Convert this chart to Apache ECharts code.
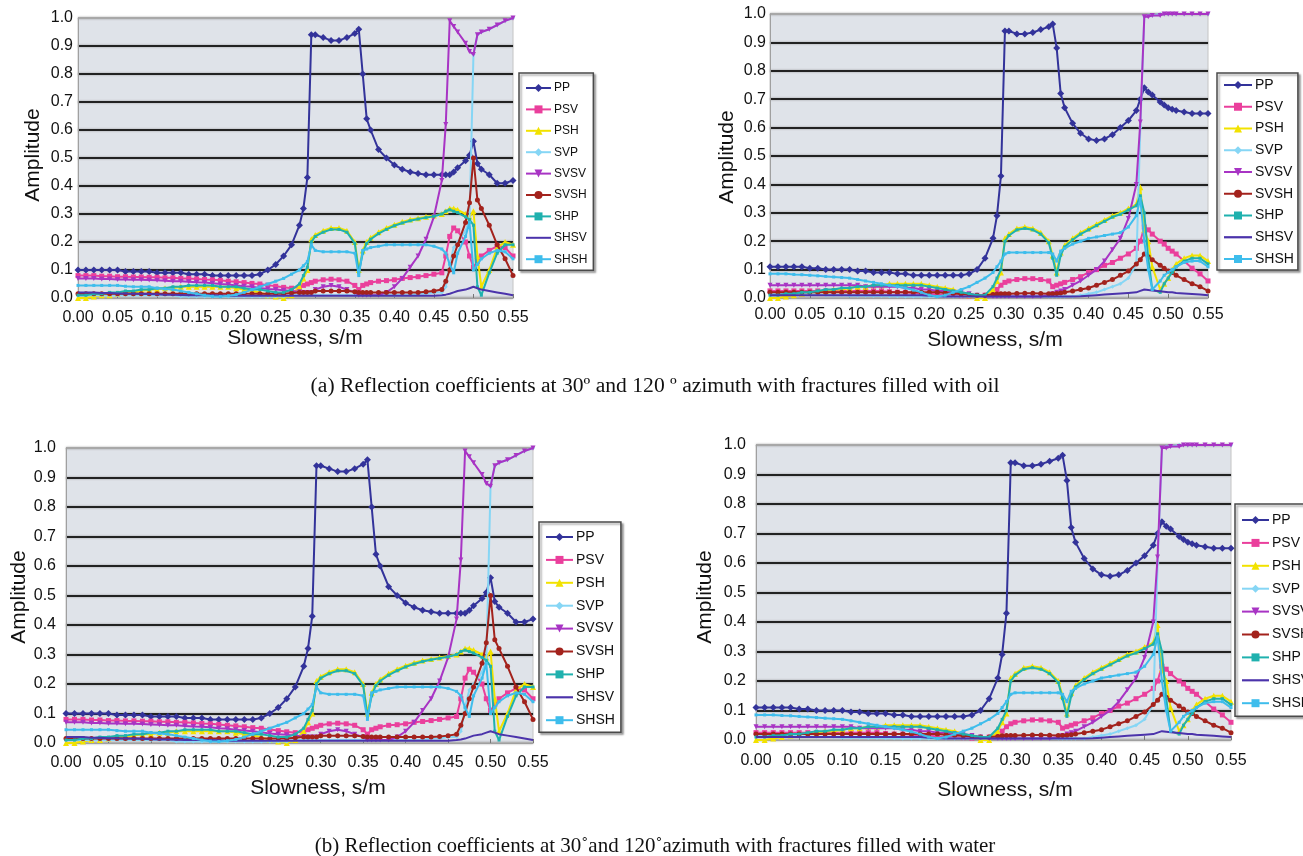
<!DOCTYPE html>
<html><head><meta charset="utf-8">
<script src="https://cdn.jsdelivr.net/npm/echarts@6/dist/echarts.min.js"></script>
<style>html,body{margin:0;padding:0;background:#fff}#c{width:1303px;height:856px}</style>
</head><body><div id="c"></div>
<script>
// ---------------- DATA ----------------
const seriesNames = ['PP','PSV','PSH','SVP','SVSV','SVSH','SHP','SHSV','SHSH'];
const xTickStep = 0.05, yTickStep = 0.1;
// shared slowness sample positions (s/m)
const slowness = [
0,0.01,0.02,0.03,0.04,0.05,0.06,0.07,0.08,0.09,
0.10,0.11,0.12,0.13,0.14,0.15,0.16,0.17,0.18,0.19,
0.20,0.21,0.22,0.23,0.24,0.25,0.26,0.27,0.28,
0.285,0.29,0.295,
0.30,0.31,0.32,0.33,0.34,0.35,
0.355,0.36,0.365,
0.37,0.38,0.39,0.40,0.41,0.42,0.43,0.44,0.45,0.46,
0.465,0.47,0.475,0.48,
0.49,0.495,0.50,0.505,
0.51,0.52,0.53,0.54,0.55];

// ---- 30 degree azimuth (left panels) ----
const ppA = [
0.10,0.10,0.10,0.10,0.10,0.10,0.095,0.095,0.095,0.095,
0.09,0.09,0.09,0.09,0.085,0.085,0.085,0.08,0.08,0.08,
0.08,0.08,0.08,0.085,0.10,0.12,0.15,0.19,0.26,
0.32,0.43,0.94,
0.94,0.93,0.92,0.92,0.93,0.945,
0.96,0.80,0.64,
0.60,0.53,0.50,0.475,0.46,0.45,0.445,0.44,0.44,0.44,
0.44,0.44,0.45,0.465,
0.49,0.51,0.56,0.48,
0.46,0.44,0.41,0.41,0.42];
const psvA = [
0.08,0.08,0.08,0.078,0.078,0.076,0.076,0.075,0.075,0.074,
0.074,0.072,0.072,0.07,0.07,0.068,0.066,0.065,0.063,0.06,
0.058,0.055,0.052,0.05,0.046,0.042,0.038,0.035,0.04,
0.045,0.05,0.055,
0.06,0.065,0.067,0.065,0.06,0.045,
0.03,0.045,0.05,
0.055,0.06,0.062,0.065,0.07,0.073,0.076,0.08,0.085,0.09,
0.15,0.22,0.25,0.24,
0.20,0.15,0.11,0.13,
0.15,0.17,0.185,0.18,0.15];
const pshA = [
0.0,0.0,0.005,0.01,0.01,0.015,0.02,0.02,0.025,0.03,
0.03,0.035,0.035,0.04,0.04,0.04,0.04,0.04,0.04,0.04,
0.035,0.03,0.025,0.02,0.01,0.005,0.0,0.01,0.04,
0.07,0.10,0.21,
0.225,0.24,0.25,0.25,0.24,0.20,
0.10,0.17,0.20,
0.215,0.235,0.25,0.262,0.272,0.28,0.285,0.29,0.295,0.30,
0.31,0.32,0.32,0.315,
0.30,0.29,0.31,0.15,
0.04,0.10,0.18,0.20,0.19];
const svpA = [
0.01,0.01,0.01,0.01,0.01,0.01,0.01,0.01,0.01,0.01,
0.01,0.01,0.01,0.005,0.005,0.005,0.005,0.005,0.005,0.005,
0.005,0.005,0.005,0.005,0.005,0.005,0.005,0.01,0.01,
0.01,0.01,0.01,
0.01,0.01,0.01,0.01,0.01,0.01,
0.01,0.01,0.01,
0.01,0.01,0.01,0.01,0.01,0.01,0.015,0.015,0.02,0.02,
0.04,0.12,0.18,0.20,
0.24,0.28,0.87,0.94,
0.95,0.96,0.975,0.99,1.0];
const svsvA = [
0.07,0.07,0.07,0.068,0.068,0.066,0.066,0.065,0.065,0.064,
0.063,0.062,0.06,0.06,0.058,0.056,0.055,0.053,0.05,0.048,
0.045,0.042,0.04,0.036,0.032,0.03,0.028,0.025,0.022,
0.02,0.02,0.02,
0.03,0.04,0.045,0.04,0.03,0.02,
0.01,0.01,0.01,
0.01,0.01,0.02,0.04,0.07,0.11,0.15,0.21,0.29,0.42,
0.62,0.99,0.97,0.95,
0.91,0.88,0.87,0.94,
0.95,0.96,0.975,0.99,1.0];
const svshA = [
0.015,0.015,0.015,0.015,0.015,0.015,0.015,0.015,0.015,0.015,
0.015,0.015,0.015,0.015,0.015,0.015,0.015,0.015,0.015,0.015,
0.015,0.015,0.015,0.015,0.015,0.015,0.015,0.018,0.02,
0.02,0.02,0.02,
0.025,0.025,0.025,0.025,0.025,0.022,
0.02,0.02,0.02,
0.02,0.02,0.02,0.02,0.02,0.02,0.02,0.022,0.025,0.03,
0.06,0.10,0.15,0.19,
0.27,0.34,0.50,0.35,
0.32,0.26,0.19,0.14,0.08];
const shpA = [
0.01,0.01,0.015,0.015,0.02,0.02,0.025,0.025,0.03,0.03,
0.035,0.035,0.04,0.04,0.045,0.045,0.045,0.045,0.04,0.04,
0.04,0.035,0.03,0.03,0.025,0.02,0.02,0.03,0.05,
0.08,0.11,0.20,
0.22,0.235,0.245,0.245,0.235,0.195,
0.09,0.16,0.195,
0.21,0.23,0.245,0.258,0.268,0.276,0.282,0.287,0.292,0.30,
0.31,0.315,0.31,0.305,
0.29,0.28,0.26,0.04,
0.01,0.09,0.16,0.19,0.19];
const shsvA = [
0.02,0.02,0.02,0.018,0.018,0.016,0.016,0.015,0.015,0.014,
0.013,0.012,0.012,0.011,0.01,0.01,0.01,0.01,0.009,0.008,
0.008,0.008,0.008,0.008,0.008,0.008,0.008,0.008,0.008,
0.008,0.008,0.008,
0.008,0.008,0.008,0.008,0.008,0.008,
0.008,0.008,0.008,
0.008,0.008,0.008,0.008,0.008,0.008,0.008,0.008,0.008,0.01,
0.012,0.015,0.02,0.025,
0.03,0.035,0.04,0.035,
0.03,0.025,0.02,0.015,0.01];
const shshA = [
0.045,0.045,0.045,0.045,0.045,0.045,0.042,0.04,0.04,0.04,
0.035,0.032,0.03,0.025,0.02,0.015,0.01,0.006,0.005,0.008,
0.012,0.02,0.03,0.04,0.05,0.06,0.07,0.085,0.10,
0.115,0.13,0.19,
0.17,0.165,0.165,0.165,0.165,0.16,
0.08,0.17,0.175,
0.18,0.185,0.19,0.19,0.19,0.19,0.19,0.19,0.185,0.175,
0.16,0.12,0.09,0.16,
0.22,0.27,0.10,0.12,
0.14,0.16,0.17,0.165,0.14];

// ---- 120 degree azimuth (right panels) ----
const ppB = [
0.11,0.11,0.11,0.11,0.11,0.105,0.105,0.10,0.10,0.10,
0.10,0.095,0.095,0.09,0.09,0.09,0.085,0.085,0.08,0.08,
0.08,0.08,0.08,0.08,0.08,0.085,0.10,0.14,0.21,
0.29,0.43,0.94,
0.94,0.93,0.93,0.935,0.945,0.955,
0.965,0.88,0.72,
0.67,0.615,0.58,0.56,0.555,0.56,0.575,0.60,0.625,0.66,
0.70,0.74,0.725,0.715,
0.69,0.68,0.67,0.665,
0.66,0.655,0.65,0.65,0.65];
const psvB = [
0.025,0.025,0.025,0.025,0.025,0.025,0.025,0.025,0.025,0.025,
0.025,0.025,0.025,0.025,0.025,0.022,0.02,0.02,0.018,0.016,
0.015,0.012,0.01,0.01,0.008,0.006,0.005,0.01,0.02,
0.03,0.045,0.055,
0.06,0.065,0.068,0.068,0.065,0.06,
0.04,0.045,0.05,
0.055,0.065,0.075,0.09,0.10,0.115,0.125,0.14,0.155,0.175,
0.20,0.25,0.24,0.225,
0.20,0.19,0.175,0.165,
0.155,0.13,0.105,0.085,0.06];
const pshB = [
0.0,0.0,0.005,0.01,0.015,0.02,0.02,0.025,0.03,0.03,
0.035,0.04,0.04,0.045,0.045,0.05,0.05,0.05,0.05,0.05,
0.045,0.04,0.035,0.03,0.02,0.01,0.0,0.0,0.03,
0.06,0.09,0.21,
0.225,0.245,0.25,0.245,0.23,0.20,
0.15,0.09,0.16,
0.185,0.21,0.23,0.245,0.26,0.275,0.29,0.30,0.315,0.33,
0.39,0.24,0.20,0.11,
0.03,0.05,0.07,0.10,
0.12,0.14,0.15,0.15,0.13];
const svpB = [
0.015,0.015,0.015,0.015,0.015,0.012,0.012,0.01,0.01,0.01,
0.008,0.008,0.008,0.007,0.007,0.006,0.006,0.005,0.005,0.005,
0.005,0.005,0.005,0.005,0.005,0.005,0.005,0.005,0.005,
0.005,0.005,0.005,
0.005,0.005,0.005,0.005,0.005,0.005,
0.005,0.005,0.005,
0.005,0.005,0.01,0.015,0.02,0.03,0.04,0.05,0.07,0.12,
0.60,0.99,0.995,0.995,
1.0,1.0,1.0,1.0,
1.0,1.0,1.0,1.0,1.0];
const svsvB = [
0.045,0.045,0.045,0.045,0.045,0.045,0.045,0.045,0.045,0.045,
0.045,0.045,0.04,0.04,0.04,0.04,0.04,0.035,0.035,0.03,
0.03,0.025,0.025,0.02,0.02,0.015,0.01,0.005,0.005,
0.005,0.005,0.005,
0.005,0.005,0.005,0.005,0.005,0.01,
0.015,0.02,0.025,
0.03,0.045,0.06,0.08,0.10,0.13,0.17,0.21,0.28,0.40,
0.62,0.99,0.99,0.995,
0.995,1.0,1.0,1.0,
1.0,1.0,1.0,1.0,1.0];
const svshB = [
0.02,0.02,0.02,0.02,0.02,0.02,0.02,0.02,0.02,0.02,
0.02,0.02,0.02,0.02,0.02,0.02,0.02,0.02,0.02,0.02,
0.02,0.02,0.018,0.016,0.014,0.012,0.01,0.01,0.012,
0.014,0.015,0.015,
0.015,0.016,0.017,0.017,0.016,0.015,
0.015,0.016,0.018,
0.02,0.025,0.03,0.035,0.045,0.055,0.065,0.08,0.095,0.12,
0.135,0.155,0.145,0.135,
0.115,0.105,0.095,0.09,
0.08,0.065,0.05,0.04,0.025];
const shpB = [
0.01,0.01,0.015,0.015,0.02,0.02,0.025,0.03,0.03,0.035,
0.035,0.04,0.04,0.045,0.045,0.045,0.045,0.045,0.045,0.045,
0.04,0.035,0.03,0.025,0.02,0.015,0.01,0.01,0.04,
0.07,0.10,0.20,
0.22,0.24,0.245,0.24,0.225,0.195,
0.14,0.08,0.15,
0.18,0.205,0.225,0.24,0.255,0.27,0.285,0.295,0.31,0.325,
0.36,0.30,0.14,0.03,
0.02,0.05,0.07,0.09,
0.11,0.13,0.14,0.14,0.12];
const shsvB = [
0.01,0.01,0.01,0.01,0.01,0.01,0.01,0.01,0.01,0.01,
0.01,0.01,0.01,0.01,0.01,0.01,0.01,0.01,0.01,0.01,
0.008,0.006,0.005,0.005,0.005,0.005,0.005,0.005,0.005,
0.005,0.005,0.005,
0.005,0.005,0.005,0.005,0.005,0.005,
0.005,0.005,0.005,
0.005,0.005,0.006,0.008,0.01,0.012,0.014,0.016,0.018,0.02,
0.025,0.03,0.028,0.026,
0.024,0.022,0.02,0.02,
0.018,0.016,0.014,0.012,0.01];
const shshB = [
0.085,0.085,0.085,0.083,0.082,0.08,0.078,0.076,0.074,0.072,
0.07,0.065,0.06,0.055,0.05,0.045,0.04,0.035,0.028,0.02,
0.01,0.005,0.01,0.02,0.03,0.04,0.055,0.07,0.09,
0.11,0.13,0.155,
0.16,0.16,0.16,0.16,0.16,0.16,
0.155,0.13,0.165,
0.175,0.19,0.20,0.21,0.215,0.22,0.225,0.23,0.25,0.29,
0.35,0.20,0.10,0.03,
0.06,0.08,0.09,0.10,
0.11,0.125,0.13,0.13,0.11];

const setA = [ppA,psvA,pshA,svpA,svsvA,svshA,shpA,shsvA,shshA];
const setB = [ppB,psvB,pshB,svpB,svsvB,svshB,shpB,shsvB,shshB];

const captionA = '(a) Reflection coefficients at 30º and 120 º azimuth with fractures filled with oil';
const captionB = '(b) Reflection coefficients at 30˚and 120˚azimuth with fractures filled with water';
const yTitle = 'Amplitude', xTitle = 'Slowness, s/m';

// ---------------- STYLE / LAYOUT ----------------
const FONT = '"Liberation Sans", Arial, sans-serif';
const SERIF = '"Liberation Serif", "Times New Roman", serif';
const styles = [
  {color:'#33339a', symbol:'diamond', size:7},
  {color:'#ea3f9c', symbol:'rect', size:5},
  {color:'#f2e200', symbol:'triangle', size:6},
  {color:'#86d6f5', symbol:'diamond', size:4},
  {color:'#a834c4', symbol:'triangle', size:5, rot:180},
  {color:'#a3221c', symbol:'circle', size:5},
  {color:'#1fb1ae', symbol:'rect', size:3},
  {color:'#4b33ab', symbol:'none', size:0},
  {color:'#3ebdec', symbol:'rect', size:3}
];
const panels = [
  {grid:{left:78, top:18, width:435, height:280}, data:setA, xMargin:12, yMargin:5,
   legend:{left:519, top:73, fs:12, gap:9.4, w:25, pad:[9,6,5,6]},
   yT:[33,155], xT:[295,338]},
  {grid:{left:770, top:14, width:438, height:284}, data:setB, xMargin:9, yMargin:4,
   legend:{left:1217, top:73, fs:14, gap:7.75, w:28, pad:[5,4,4,6]},
   yT:[727,157], xT:[995,340]},
  {grid:{left:66, top:448, width:467, height:295}, data:setA, xMargin:12, yMargin:10,
   legend:{left:539, top:522, fs:14, gap:8.9, w:27, pad:[8,6,5,6]},
   yT:[19,597], xT:[318,788]},
  {grid:{left:756, top:445, width:475, height:295}, data:setB, xMargin:13, yMargin:10,
   legend:{left:1235, top:504, fs:14, gap:8.9, w:27, pad:[9,6,6,6]},
   yT:[705,597], xT:[1005,790]}
];

const grids=[], xAxes=[], yAxes=[], legends=[], series=[], graphics=[];
const splitColors = ['#b0b0b0','#222','#222','#222','#222','#222','#222','#222','#222','#222','#a8a8a8'];
const lineIcon = 'path://M0,0L30,0L30,2.4L0,2.4Z';
const legendData = seriesNames.map(n => n === 'SHSV' ? {name:n, icon:lineIcon} : n);
panels.forEach((p, pi) => {
  grids.push(Object.assign({show:true, backgroundColor:'#dfe3e9', borderColor:'#c4c4c4', borderWidth:1, containLabel:false}, p.grid));
  xAxes.push({type:'value', gridIndex:pi, min:0, max:0.55, interval:xTickStep,
    axisLine:{show:true, lineStyle:{color:'#a0a0a0', width:1}},
    axisTick:{show:true, inside:true, length:4, lineStyle:{color:'#777'}},
    splitLine:{show:false},
    axisLabel:{color:'#111', fontFamily:FONT, fontSize:16, margin:p.xMargin, formatter:v=>v.toFixed(2), showMinLabel:true, showMaxLabel:true}});
  yAxes.push({type:'value', gridIndex:pi, min:0, max:1, interval:yTickStep,
    axisLine:{show:true, lineStyle:{color:'#a0a0a0'}},
    axisTick:{show:false},
    splitLine:{show:true, lineStyle:{color:splitColors, width:2.2, shadowColor:'rgba(90,90,90,0.6)', shadowBlur:2}},
    axisLabel:{color:'#111', fontFamily:FONT, fontSize:16, margin:p.yMargin, padding:[0,0,7,0], formatter:v=>v.toFixed(1)}});
  const L = p.legend;
  legends.push({orient:'vertical', left:L.left, top:L.top, padding:L.pad, itemGap:L.gap,
    itemWidth:L.w, itemHeight:10, data:legendData, selectedMode:false, symbolKeepAspect:true,
    backgroundColor:'#ffffff', borderColor:'#4a4a4a', borderWidth:1.5, borderRadius:0,
    shadowColor:'rgba(0,0,0,0.35)', shadowBlur:2, shadowOffsetX:2, shadowOffsetY:2,
    textStyle:{fontFamily:FONT, fontSize:L.fs, lineHeight:L.fs, color:'#111', padding:[0,0,0,-2]}});
  seriesNames.forEach((nm, si) => {
    const st = styles[si];
    const arr = p.data[si];
    series.push({name:nm, type:'line', xAxisIndex:pi, yAxisIndex:pi,
      data: slowness.map((x,i)=>[x, arr[i]]),
      symbol: st.symbol, symbolSize: st.size, symbolRotate: st.rot||0,
      showSymbol: st.symbol !== 'none', showAllSymbol:true,
      lineStyle:{color:st.color, width:2}, itemStyle:{color:st.color},
      emphasis:{disabled:true}, animation:false, clip:true, z:2+si*0.01});
  });
  graphics.push({type:'text', x:p.yT[0], y:p.yT[1], rotation:Math.PI/2,
    style:{text:yTitle, font:'21px '+FONT, fill:'#111', textAlign:'center', textVerticalAlign:'middle'}});
  graphics.push({type:'text', x:p.xT[0], y:p.xT[1],
    style:{text:xTitle, font:'21px '+FONT, fill:'#111', textAlign:'center', textVerticalAlign:'middle'}});
});
graphics.push({type:'text', x:655, y:386, style:{text:captionA, font:'21.6px '+SERIF, fill:'#111', textAlign:'center', textVerticalAlign:'middle'}});
graphics.push({type:'text', x:655, y:846, style:{text:captionB, font:'21px '+SERIF, fill:'#111', textAlign:'center', textVerticalAlign:'middle'}});

const chart = echarts.init(document.getElementById('c'), null, {renderer:'canvas'});
chart.setOption({backgroundColor:'#ffffff', animation:false, grid:grids, xAxis:xAxes, yAxis:yAxes, legend:legends, series:series, graphic:graphics});
</script></body></html>
